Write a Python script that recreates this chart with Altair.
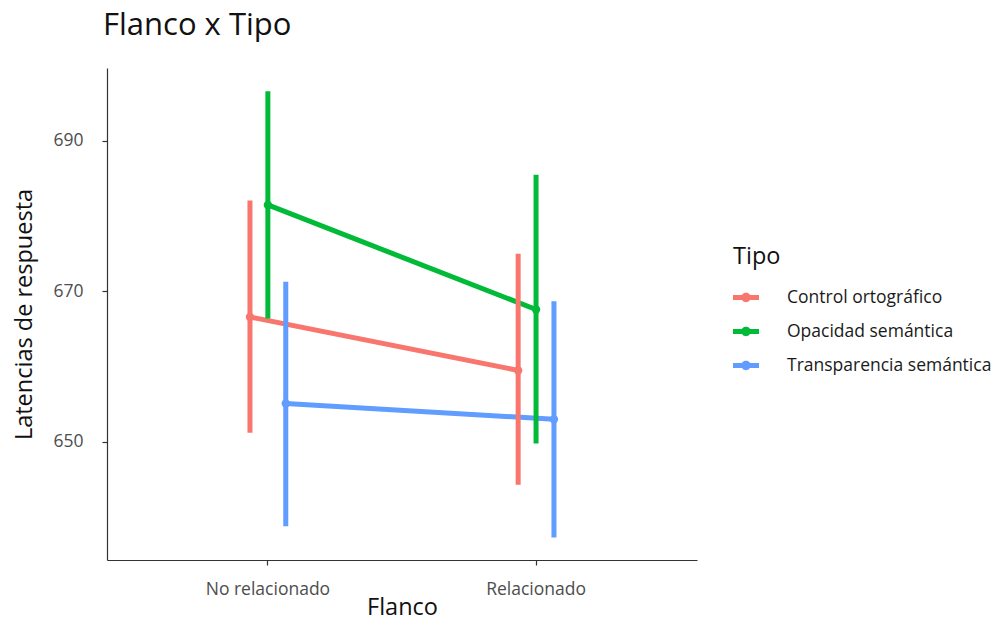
import altair as alt
import pandas as pd

# ---- data ----
flanco = ["No relacionado", "No relacionado", "No relacionado",
          "Relacionado", "Relacionado", "Relacionado"]
tipo = ["Control ortográfico", "Opacidad semántica", "Transparencia semántica",
        "Control ortográfico", "Opacidad semántica", "Transparencia semántica"]
media = [666.6, 681.5, 655.1, 659.5, 667.6, 653.0]
inferior = [651.2, 666.4, 638.8, 644.3, 649.8, 637.3]
superior = [682.1, 696.6, 671.3, 675.0, 685.5, 668.7]

tipos = ["Control ortográfico", "Opacidad semántica", "Transparencia semántica"]
flancos = ["No relacionado", "Relacionado"]
colores = ["#F8766D", "#00BA38", "#619CFF"]
y_ticks = [650, 670, 690]
y_dominio = [634.3, 699.7]

df = pd.DataFrame({"Flanco": flanco, "Tipo": tipo, "Media": media,
                   "Inferior": inferior, "Superior": superior})

FONT = "Open Sans"
AXIS_COL = "#333333"

x_enc = alt.X(
    "Flanco:N", title="Flanco", sort=flancos,
    scale=alt.Scale(type="band", paddingInner=0, paddingOuter=0.1),
    axis=alt.Axis(labelAngle=0, labelFontSize=17.5, labelColor="#4D4D4D", labelFont=FONT,
                  labelPadding=15, tickSize=5, tickColor=AXIS_COL, domainColor=AXIS_COL,
                  domainWidth=1.2, tickWidth=1.2, grid=False,
                  titleFontSize=23.5, titleFont=FONT, titleFontWeight="normal",
                  titleColor="#111111", titleY=47, titleBaseline="middle"),
)
# dodge of the three series inside each band (position_dodge-like)
xo_enc = alt.XOffset(
    "Tipo:N", sort=tipos,
    scale=alt.Scale(type="band", paddingInner=0, paddingOuter=0, domain=tipos,
                    range=[107.2, 160.9]),
)
y_axis = alt.Axis(values=y_ticks, labelFontSize=17.5, labelColor="#4D4D4D", labelFont=FONT,
                  labelPadding=19, tickSize=5, tickColor=AXIS_COL, domainColor=AXIS_COL,
                  domainWidth=1.2, tickWidth=1.2, grid=False,
                  titleFontSize=23.5, titleFont=FONT, titleFontWeight="normal",
                  titleColor="#111111", titleX=-83, titleY=246, titleAngle=-90,
                  titleBaseline="middle", titleAlign="center")
y_scale = alt.Scale(domain=y_dominio, zero=False, nice=False)
color_enc = alt.Color(
    "Tipo:N", sort=tipos,
    scale=alt.Scale(domain=tipos, range=colores),
    legend=alt.Legend(title="Tipo"),
)

base = alt.Chart(df)

lineas = base.mark_line(strokeWidth=5).encode(
    x=x_enc, xOffset=xo_enc,
    y=alt.Y("Media:Q", title="Latencias de respuesta", scale=y_scale, axis=y_axis),
    color=color_enc,
)
barras = base.mark_rule(strokeWidth=5).encode(
    x=x_enc, xOffset=xo_enc,
    y=alt.Y("Inferior:Q", title="Latencias de respuesta", scale=y_scale, axis=y_axis),
    y2="Superior:Q",
    color=color_enc,
)
puntos = base.mark_point(filled=True, size=70, opacity=1).encode(
    x=x_enc, xOffset=xo_enc,
    y=alt.Y("Media:Q", title="Latencias de respuesta", scale=y_scale, axis=y_axis),
    color=color_enc,
)

simbolo = ("M-1,-0.19L1,-0.19L1,0.19L-1,0.19Z "
           "M-0.36,0A0.36,0.36 0 1,1 0.36,0A0.36,0.36 0 1,1 -0.36,0Z")

chart = (
    alt.layer(lineas, barras, puntos)
    .properties(
        width=590, height=492,
        autosize=alt.AutoSizeParams(type="none"),
        padding={"left": 107, "top": 68, "right": 299, "bottom": 60},
        title=alt.Title("Flanco x Tipo", anchor="start", frame="group", fontSize=31,
                        fontWeight="normal", font=FONT, color="#111111",
                        baseline="alphabetic", offset=2, dx=-4),
    )
    .configure_view(stroke=None)
    .configure_legend(
        orient="none", legendX=626, legendY=177,
        titleFontSize=23.5, titleFont=FONT, titleFontWeight="normal", titleColor="#111111",
        titlePadding=16,
        labelFontSize=17.5, labelFont=FONT, labelColor="#1A1A1A", labelOffset=28,
        labelLimit=400,
        symbolType=simbolo, symbolSize=676, symbolStrokeWidth=0, symbolOpacity=1,
        rowPadding=12,
    )
)

chart.save("out.html", embed_options={"renderer": "svg", "actions": False})
